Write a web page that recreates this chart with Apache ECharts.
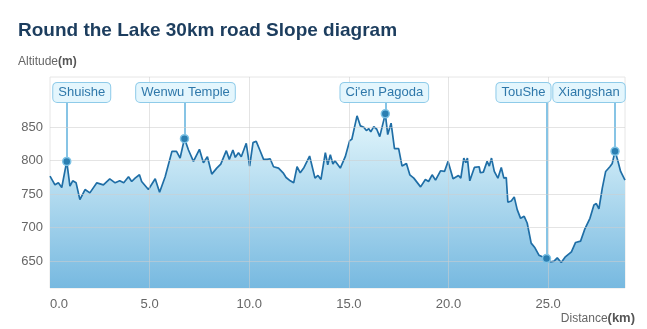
<!DOCTYPE html>
<html><head><meta charset="utf-8">
<script src="https://cdn.jsdelivr.net/npm/echarts@6/dist/echarts.min.js"></script>
<style>html,body{margin:0;padding:0;background:#fff}#c{width:647px;height:329px}</style>
</head><body><div id="c"></div>
<script>
// distance (km) and altitude (m)
var distance = [0.00,0.25,0.42,0.59,0.84,1.00,1.14,1.31,1.50,1.76,2.00,2.35,2.68,3.00,3.27,3.50,3.70,3.94,4.10,4.27,4.49,4.60,4.94,5.28,5.50,5.78,6.12,6.35,6.53,6.75,6.95,7.20,7.50,7.70,7.90,8.12,8.37,8.57,8.85,9.00,9.18,9.30,9.46,9.60,9.85,10.02,10.19,10.35,10.53,10.72,10.90,11.05,11.22,11.47,11.70,11.85,12.06,12.23,12.40,12.56,12.75,13.03,13.30,13.45,13.60,13.82,13.94,14.07,14.20,14.30,14.57,14.82,15.04,15.15,15.41,15.58,15.75,15.88,16.00,16.10,16.25,16.40,16.55,16.83,16.95,17.12,17.29,17.50,17.67,17.89,18.06,18.26,18.60,18.84,19.00,19.18,19.35,19.60,19.80,19.98,20.23,20.50,20.62,20.77,20.87,20.95,21.07,21.30,21.54,21.60,21.75,21.94,22.05,22.16,22.30,22.48,22.65,22.78,22.90,22.98,23.15,23.30,23.45,23.62,23.80,23.95,24.15,24.34,24.54,24.92,25.13,25.30,25.46,25.66,25.85,26.17,26.38,26.63,26.83,27.10,27.30,27.42,27.55,27.72,27.89,28.10,28.22,28.36,28.50,28.64,28.86];
var altitude = [777,764,767,760,799,762,770,767,742,757,752,767,764,773,767,770,767,776,769,774,779,769,757,773,753,776,814,814,804,833,816,799,817,797,806,780,789,795,815,802,816,805,812,806,826,792,827,829,816,802,802,803,791,789,782,775,770,767,791,782,790,807,774,778,772,812,794,809,795,800,789,806,830,832,867,852,850,845,848,843,851,847,836,870,839,856,818,818,792,796,779,774,761,772,769,779,771,785,784,799,773,778,774,804,797,804,770,790,791,782,783,799,792,804,784,774,790,774,775,738,740,746,727,714,717,707,677,670,659,654,649,650,655,648,656,664,678,680,697,714,734,736,728,759,784,791,796,814,800,784,771];
// annotations
var placeNames = ["Shuishe","Wenwu Temple","Ci'en Pagoda","TouShe","Xiangshan"];
var placeKm = [0.84,6.75,16.83,24.92,28.36];
var placeAlt = [799,833,870,654,814];
var yTicks = [650,700,750,800,850];
var xTicks = [0,5,10,15,20,25];

// layout-only settings (label nudges in px, label anchor heights in axis units)
var labelShift = [15,1,-1,-23,-26];
var labelValue = 902, lineTopValue = 887;

var chart = echarts.init(document.getElementById('c'), null, {renderer:'canvas'});
var pts = distance.map(function(d,i){return [d, altitude[i]];});
var gridLines = yTicks.map(function(v){return [{coord:[0,v]},{coord:[distance[distance.length-1],v]}];});
var vLines = xTicks.slice(1).map(function(v){return [{coord:[v,610]},{coord:[v,925]}];});
var annLines = placeKm.map(function(k,i){return [{coord:[k,placeAlt[i]]},{coord:[k,lineTopValue]}];});

chart.setOption({
  animation:false,
  title:[
    {text:'Round the Lake 30km road Slope diagram',left:18,top:21,padding:0,
     textStyle:{fontFamily:'Liberation Sans, Arial',fontSize:19,fontWeight:'bold',color:'#1c3d5e'}},
    {text:'Altitude{b|(m)}',left:18,top:56,padding:0,
     textStyle:{fontFamily:'Liberation Sans, Arial',fontSize:12,fontWeight:'normal',color:'#666',
       rich:{b:{fontFamily:'Liberation Sans, Arial',fontSize:12,fontWeight:'bold',color:'#555'}}}},
    {text:'Distance{b|(km)}',right:12,top:312,padding:0,
     textStyle:{fontFamily:'Liberation Sans, Arial',fontSize:12,fontWeight:'normal',color:'#666',
       rich:{b:{fontFamily:'Liberation Sans, Arial',fontSize:13,fontWeight:'bold',color:'#555'}}}}
  ],
  grid:{left:50,right:22,top:77,bottom:41,show:true,borderColor:'#e6e6e6',borderWidth:1,backgroundColor:'transparent'},
  xAxis:{type:'value',min:0,max:distance[distance.length-1],interval:5,
    axisLine:{show:false},axisTick:{show:false},splitLine:{show:false},
    axisLabel:{showMaxLabel:false,alignMinLabel:'left',margin:10,color:'#666',fontSize:13,fontFamily:'Liberation Sans, Arial',
      formatter:function(v){return v.toFixed(1);}}},
  yAxis:{type:'value',min:610,max:925,
    axisLine:{show:false},axisTick:{show:false,customValues:yTicks},splitLine:{show:false},
    axisLabel:{customValues:yTicks,margin:7,color:'#666',fontSize:13,fontFamily:'Liberation Sans, Arial'}},
  series:[
    {type:'line',data:pts,symbol:'none',smooth:false,z:3,
     lineStyle:{color:'#1f6ea6',width:1.7},
     areaStyle:{opacity:1,color:new echarts.graphic.LinearGradient(0,0,0,1,[{offset:0,color:'#e4f7fc'},{offset:1,color:'#77b9e0'}])},
     markLine:{silent:true,symbol:'none',label:{show:false},animation:false,
       lineStyle:{color:'#5fb0dc',width:1.5,type:'solid'},data:annLines},
     markPoint:{silent:true,animation:false,
       data:placeKm.map(function(k,i){return {coord:[k,labelValue],symbol:'rect',symbolSize:0,
         label:{show:true,position:'inside',offset:[labelShift[i],0],formatter:placeNames[i],
           color:'#2f78aa',fontSize:13,fontFamily:'Liberation Sans, Arial',
           backgroundColor:'#e4f6fd',borderColor:'#8ecbe9',borderWidth:1,borderRadius:4,padding:[3,5]}};})
       .concat(placeKm.map(function(k,i){return {coord:[k,placeAlt[i]],symbol:'circle',symbolSize:8,
         itemStyle:{color:'#2b7fb2',borderColor:'#7ec3e6',borderWidth:1.5},label:{show:false}};}))}},
    {type:'line',data:pts,symbol:'none',z:2,silent:true,
     lineStyle:{width:0},
     markLine:{silent:true,symbol:'none',label:{show:false},animation:false,
       lineStyle:{color:'rgba(205,205,205,0.55)',width:1,type:'solid'},
       data:gridLines.concat(vLines)}}
  ]
});
</script></body></html>
